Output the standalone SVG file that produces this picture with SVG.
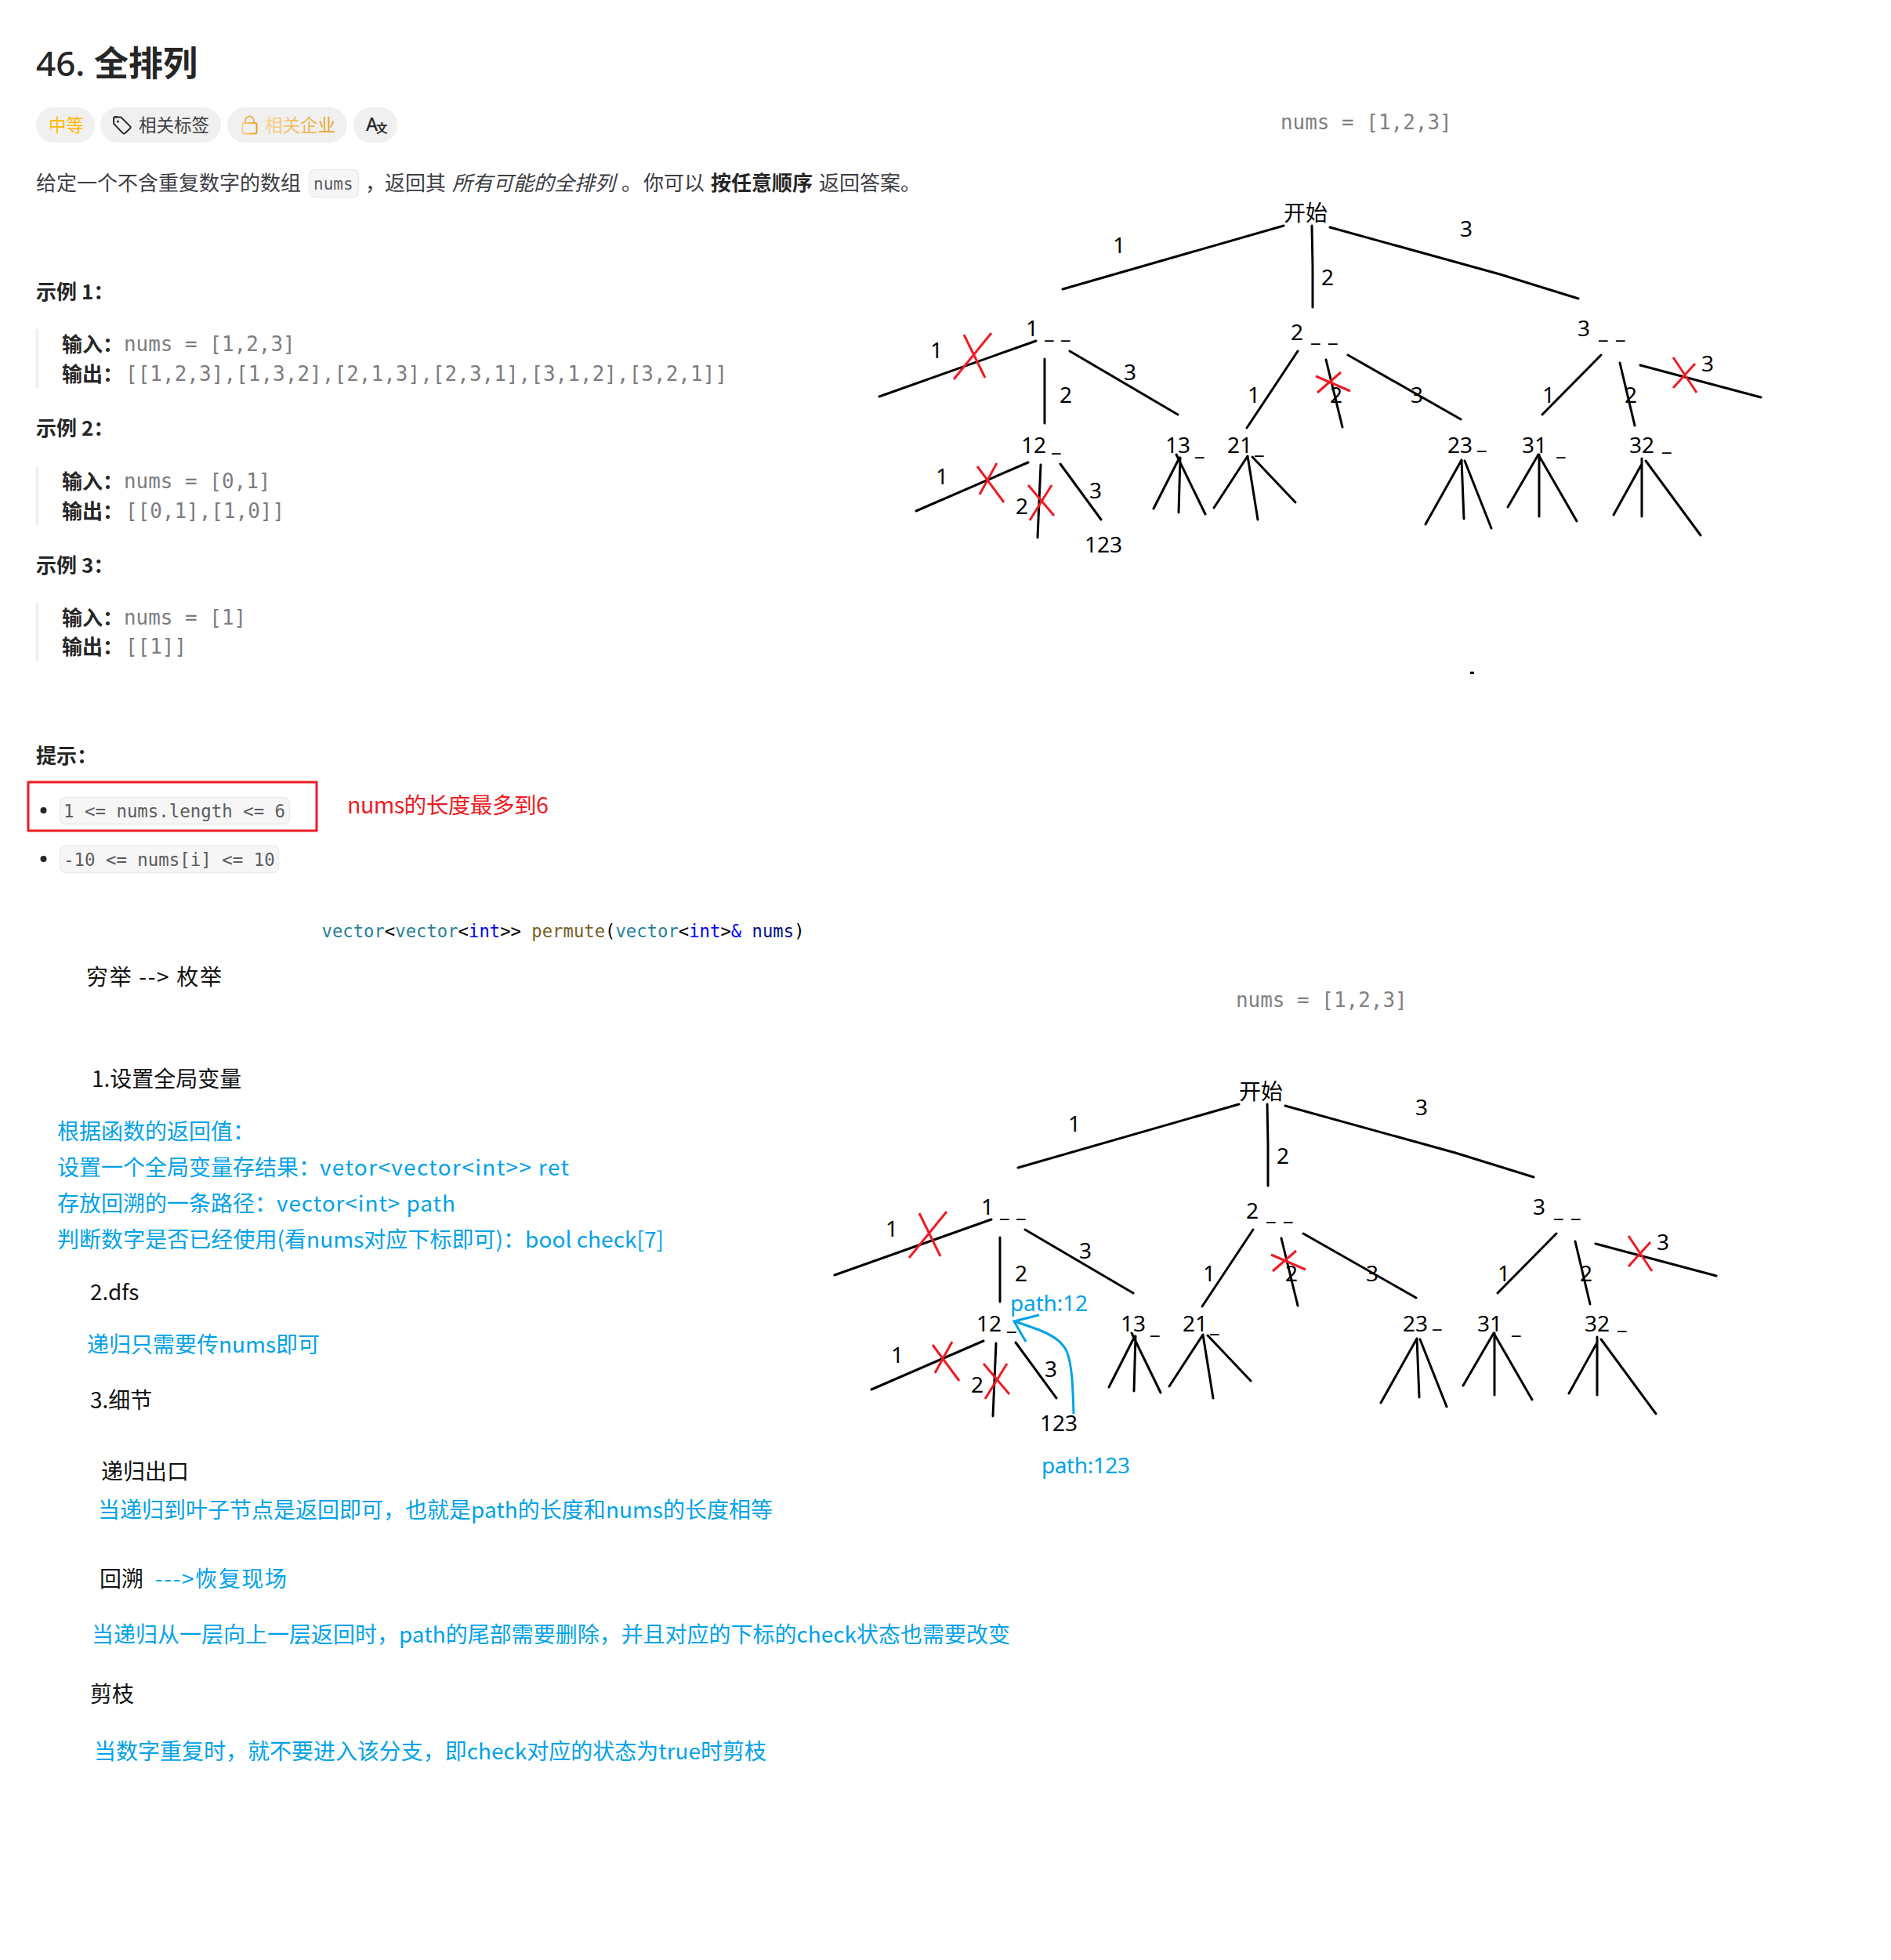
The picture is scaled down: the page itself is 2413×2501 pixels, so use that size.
<svg xmlns="http://www.w3.org/2000/svg" width="2413" height="2501" viewBox="0 0 2413 2501">
<defs>
<linearGradient id="gold" x1="0" y1="0" x2="1" y2="0"><stop offset="0" stop-color="#f9d08f"/><stop offset="1" stop-color="#e6a11f"/></linearGradient>
</defs>
<style>
text{font-family:"Noto Sans","Noto Sans CJK SC",sans-serif;white-space:pre}
.cjk{font-family:"Noto Sans CJK SC","Noto Sans",sans-serif}
.b{font-size:26px;fill:#3c3c43;font-family:"Noto Sans CJK SC",sans-serif}
.bb{font-size:26px;font-weight:700;fill:#262626;font-family:"Noto Sans CJK SC",sans-serif}
.m{font-family:"DejaVu Sans Mono",monospace;font-size:25.95px;fill:#7c7c80}
.c{font-family:"DejaVu Sans Mono",monospace;font-size:22.4px;fill:#5c5c60}
.k{font-size:28px;fill:#111;font-family:"Noto Sans CJK SC",sans-serif}
.u{font-size:28px;fill:#00a2e8;font-family:"Noto Sans CJK SC",sans-serif}
.chip{fill:#f0f0f0}
.bar{fill:#eeeeee}
.cc{fill:#f6f6f7;stroke:#ebebed;stroke-width:1.5}
.n{font-size:28px;fill:#000;text-anchor:middle}
.d{font-size:26px;fill:#000}
.l{fill:none;stroke:#000;stroke-width:3;stroke-linecap:round;stroke-linejoin:round}
.x{fill:none;stroke:#ed1c24;stroke-width:3}
.bl{fill:none;stroke:#00a2e8;stroke-width:3}
</style>
<g id="chips">
<rect class="chip" x="46" y="137" width="75" height="45" rx="22.5"/>
<text x="62" y="168" font-size="22.4" fill="#ffb800" class="cjk">中等</text>
<rect class="chip" x="128" y="137" width="154" height="45" rx="22.5"/>
<path d="M147 149.500h6.500a2 2 0 0 1 1.500 .6l11 11a2 2 0 0 1 0 2.800l-6.500 6a2 2 0 0 1 -2.800 0l-11 -11.500a2 2 0 0 1 -.6 -1.500v-5.500a2.400 2.400 0 0 1 2.400 -2.400z" fill="none" stroke="#262626" stroke-width="2"/>
<circle cx="150.500" cy="155" r="1.500" fill="#262626"/>
<text x="177" y="168" font-size="22.500" fill="#3c3c43" class="cjk">相关标签</text>
<rect class="chip" x="290" y="137" width="153" height="45" rx="22.5"/>
<rect x="309.500" y="157" width="18" height="13.500" rx="2" fill="none" stroke="url(#gold)" stroke-width="2"/>
<path d="M313 157v-3a5.500 5.500 0 0 1 11 0v3" fill="none" stroke="#eeb257" stroke-width="2"/>
<text x="338" y="168" font-size="22.500" fill="url(#gold)" class="cjk">相关企业</text>
<rect class="chip" x="451" y="137" width="56" height="45" rx="22.5"/>
<text x="467" y="167" font-size="23" font-weight="500" fill="#262626">A</text><text x="480" y="169" font-size="14.500" font-weight="700" fill="#262626" class="cjk">文</text>
</g>
<g id="problem" transform="translate(0 1)">
<text x="46" y="96" font-size="44" font-weight="500" fill="#262626">46.</text>
<text x="120" y="96" font-size="44" font-weight="700" fill="#262626" class="cjk">全排列</text>

<text x="46" y="242" class="b">给定一个不含重复数字的数组</text>
<rect class="cc" x="394.500" y="215.500" width="63" height="35" rx="7"/>
<text x="400" y="241" class="c" style="font-size:21px">nums</text>
<text x="466" y="242" class="b">，</text>
<text x="491" y="242" class="b">返回其</text>
<text x="577" y="242" class="b" font-style="italic">所有可能的全排列</text>
<text x="793" y="242" class="b">。</text>
<text x="821" y="242" class="b">你可以</text>
<text x="907" y="242" class="bb">按任意顺序</text>
<text x="1045" y="242" class="b">返回答案。</text>

<text x="46" y="381" class="bb">示例 1：</text>
<rect class="bar" x="46" y="419" width="3" height="75"/>
<text x="79" y="448" class="bb">输入：</text><text x="158" y="447" class="m">nums = [1,2,3]</text>
<text x="79" y="486" class="bb">输出：</text><text x="160" y="485" class="m" textLength="768">[[1,2,3],[1,3,2],[2,1,3],[2,3,1],[3,1,2],[3,2,1]]</text>

<text x="46" y="555" class="bb">示例 2：</text>
<rect class="bar" x="46" y="594" width="3" height="75"/>
<text x="79" y="623" class="bb">输入：</text><text x="158" y="622" class="m">nums = [0,1]</text>
<text x="79" y="661" class="bb">输出：</text><text x="160" y="660" class="m">[[0,1],[1,0]]</text>

<text x="46" y="730" class="bb">示例 3：</text>
<rect class="bar" x="46" y="768" width="3" height="75"/>
<text x="79" y="797" class="bb">输入：</text><text x="158" y="796" class="m">nums = [1]</text>
<text x="79" y="834" class="bb">输出：</text><text x="160" y="833" class="m">[[1]]</text>

<text x="46" y="973" class="bb">提示：</text>
<rect x="36" y="997" width="368" height="62" fill="none" stroke="#ed1c24" stroke-width="3"/>
<text x="443" y="1037" font-size="28.700" fill="#ed1c24" class="cjk" textLength="257">nums的长度最多到6</text>
<circle cx="55.500" cy="1033" r="4" fill="#262626"/>
<rect class="cc" x="76.500" y="1016.500" width="293" height="34" rx="7"/>
<text x="81" y="1042" class="c">1 &lt;= nums.length &lt;= 6</text>
<circle cx="55.500" cy="1095" r="4" fill="#262626"/>
<rect class="cc" x="76.500" y="1078.500" width="279" height="34" rx="7"/>
<text x="81" y="1104" class="c">-10 &lt;= nums[i] &lt;= 10</text>

<text x="410.500" y="1195" style="font-family:'DejaVu Sans Mono',monospace;font-size:22.200px" fill="#000" textLength="616"><tspan fill="#267f99">vector</tspan>&lt;<tspan fill="#267f99">vector</tspan>&lt;<tspan fill="#0000ff">int</tspan>&gt;&gt; <tspan fill="#795e26">permute</tspan>(<tspan fill="#267f99">vector</tspan>&lt;<tspan fill="#0000ff">int</tspan>&gt;<tspan fill="#0000ff">&amp;</tspan> <tspan fill="#001080">nums</tspan>)</text>
</g>
<g id="notes" transform="translate(0 1)">
<text x="110" y="1256" class="k" textLength="173">穷举 --&gt; 枚举</text>
<text x="117" y="1386" class="k">1.设置全局变量</text>
<text x="73" y="1453" class="u">根据函数的返回值：</text>
<text x="73" y="1499" class="u">设置一个全局变量存结果：</text><text x="408" y="1499" class="u" textLength="318">vetor&lt;vector&lt;int&gt;&gt; ret</text>
<text x="73" y="1545" class="u">存放回溯的一条路径：</text><text x="353" y="1545" class="u" textLength="228">vector&lt;int&gt; path</text>
<text x="73" y="1591" class="u" textLength="774">判断数字是否已经使用(看nums对应下标即可)：bool check[7]</text>
<text x="115" y="1658" class="k">2.dfs</text>
<text x="111" y="1725" class="u" textLength="297">递归只需要传nums即可</text>
<text x="115" y="1796" class="k">3.细节</text>
<text x="129" y="1887" class="k">递归出口</text>
<text x="125" y="1936" class="u" textLength="861">当递归到叶子节点是返回即可，也就是path的长度和nums的长度相等</text>
<text x="127" y="2024" class="k">回溯</text>
<text x="198" y="2024" class="u" textLength="168">---&gt;恢复现场</text>
<text x="117" y="2095" class="u" textLength="1172">当递归从一层向上一层返回时，path的尾部需要删除，并且对应的下标的check状态也需要改变</text>
<text x="115" y="2171" class="k">剪枝</text>
<text x="120" y="2244" class="u" textLength="858">当数字重复时，就不要进入该分支，即check对应的状态为true时剪枝</text>
</g>
<text x="1634" y="165" class="m" style="fill:#808080">nums = [1,2,3]</text>
<rect x="1876" y="857" width="5" height="3" fill="#000"/>

<g id="tree1">
<g id="t1-connectors">
<path class="l" d="M1638 288L1356 369M1674 288L1675 340V392M1697 290L1914 350L2014 381"/>
<path class="l" d="M1322 435L1122 506M1333 458V540M1365 448L1503 529"/>
<path class="l" d="M1656 448L1591 546M1692 459L1713 545M1720 453L1864 535"/>
<path class="l" d="M2043 453L1968 529M2067 463L2086 543M2093 466L2247 507"/>
<path class="l" d="M1312 590L1169 652M1328 593L1324 686M1353 592L1405 663"/>
<path class="l" d="M1505 584L1472 649M1506 584L1504 654M1501 580L1538 656"/>
<path class="l" d="M1592 582L1549 648M1592 582L1605 663M1598 583L1653 641"/>
<path class="l" d="M1865 587L1819 669M1865 587L1868 662M1869 588L1903 674"/>
<path class="l" d="M1963 580L1924 647M1964 580V659M1963 580L2012 665"/>
<path class="l" d="M2095 592L2059 657M2095 585V659M2100 588L2170 683"/>
<path class="x" d="M1230 427L1257 482M1265 425L1217 484M1247 595L1281 641M1272 591L1250 631M1312 619L1345 658M1342 619L1314 664M1679 480L1723 499M1711 475L1681 501M2135 456L2165 501M2163 464L2135 495"/>
<text class="n" x="1428" y="323">1</text><text class="n" x="1694" y="364">2</text><text class="n" x="1871" y="302">3</text>
<text class="n" x="1195" y="457">1</text><text class="n" x="1360" y="514">2</text><text class="n" x="1442" y="485">3</text>
<text class="n" x="1600" y="514">1</text><text class="n" x="1705" y="514">2</text><text class="n" x="1808" y="514">3</text>
<text class="n" x="1976" y="514">1</text><text class="n" x="2081" y="514">2</text><text class="n" x="2179" y="474">3</text>
<text class="n" x="1202" y="618">1</text><text class="n" x="1304" y="656">2</text><text class="n" x="1398" y="636">3</text>
</g>
<g id="t1-root"><text x="1638" y="282" font-size="28" fill="#000" class="cjk">开始</text></g>
<g id="t1-n1"><text class="n" x="1317" y="429">1</text><text class="d" x="1333 1345 1354" y="432">_ _</text></g>
<g id="t1-n2"><text class="n" x="1655" y="434">2</text><text class="d" x="1673 1685 1695" y="436">_ _</text></g>
<g id="t1-n3"><text class="n" x="2021" y="429">3</text><text class="d" x="2040 2052 2062" y="432">_ _</text></g>
<g id="t1-n12"><text class="n" x="1319" y="578">12</text><text class="d" x="1342" y="576">_</text></g>
<g id="t1-n13"><text class="n" x="1503" y="578">13</text><text class="d" x="1525" y="581">_</text></g>
<g id="t1-n21"><text class="n" x="1582" y="578">21</text><text class="d" x="1601" y="579">_</text></g>
<g id="t1-n23"><text class="n" x="1863" y="578">23</text><text class="d" x="1885" y="573">_</text></g>
<g id="t1-n31"><text class="n" x="1958" y="578">31</text><text class="d" x="1986" y="581">_</text></g>
<g id="t1-n32"><text class="n" x="2095" y="578">32</text><text class="d" x="2121" y="575">_</text></g>
<g id="t1-n123"><text class="n" x="1408" y="705">123</text></g>
</g>

<text x="1577" y="1285" class="m" style="fill:#808080">nums = [1,2,3]</text>
<g id="tree2" transform="translate(-57 1121)">
<g id="t2-connectors">
<path class="l" d="M1638 288L1356 369M1674 288L1675 340V392M1697 290L1914 350L2014 381"/>
<path class="l" d="M1322 435L1122 506M1333 458V540M1365 448L1503 529"/>
<path class="l" d="M1656 448L1591 546M1692 459L1713 545M1720 453L1864 535"/>
<path class="l" d="M2043 453L1968 529M2067 463L2086 543M2093 466L2247 507"/>
<path class="l" d="M1312 590L1169 652M1328 593L1324 686M1353 592L1405 663"/>
<path class="l" d="M1505 584L1472 649M1506 584L1504 654M1501 580L1538 656"/>
<path class="l" d="M1592 582L1549 648M1592 582L1605 663M1598 583L1653 641"/>
<path class="l" d="M1865 587L1819 669M1865 587L1868 662M1869 588L1903 674"/>
<path class="l" d="M1963 580L1924 647M1964 580V659M1963 580L2012 665"/>
<path class="l" d="M2095 592L2059 657M2095 585V659M2100 588L2170 683"/>
<path class="x" d="M1230 427L1257 482M1265 425L1217 484M1247 595L1281 641M1272 591L1250 631M1312 619L1345 658M1342 619L1314 664M1679 480L1723 499M1711 475L1681 501M2135 456L2165 501M2163 464L2135 495"/>
<text class="n" x="1428" y="323">1</text><text class="n" x="1694" y="364">2</text><text class="n" x="1871" y="302">3</text>
<text class="n" x="1195" y="457">1</text><text class="n" x="1360" y="514">2</text><text class="n" x="1442" y="485">3</text>
<text class="n" x="1600" y="514">1</text><text class="n" x="1705" y="514">2</text><text class="n" x="1808" y="514">3</text>
<text class="n" x="1976" y="514">1</text><text class="n" x="2081" y="514">2</text><text class="n" x="2179" y="474">3</text>
<text class="n" x="1202" y="618">1</text><text class="n" x="1304" y="656">2</text><text class="n" x="1398" y="636">3</text>
</g>
<g id="t2-root"><text x="1638" y="282" font-size="28" fill="#000" class="cjk">开始</text></g>
<g id="t2-n1"><text class="n" x="1317" y="429">1</text><text class="d" x="1333 1345 1354" y="432">_ _</text></g>
<g id="t2-n2"><text class="n" x="1655" y="434">2</text><text class="d" x="1673 1685 1695" y="436">_ _</text></g>
<g id="t2-n3"><text class="n" x="2021" y="429">3</text><text class="d" x="2040 2052 2062" y="432">_ _</text></g>
<g id="t2-n12"><text class="n" x="1319" y="578">12</text><text class="d" x="1342" y="576">_</text></g>
<g id="t2-n13"><text class="n" x="1503" y="578">13</text><text class="d" x="1525" y="581">_</text></g>
<g id="t2-n21"><text class="n" x="1582" y="578">21</text><text class="d" x="1601" y="579">_</text></g>
<g id="t2-n23"><text class="n" x="1863" y="578">23</text><text class="d" x="1885" y="573">_</text></g>
<g id="t2-n31"><text class="n" x="1958" y="578">31</text><text class="d" x="1986" y="581">_</text></g>
<g id="t2-n32"><text class="n" x="2095" y="578">32</text><text class="d" x="2121" y="575">_</text></g>
<g id="t2-n123"><text class="n" x="1408" y="705">123</text></g>
</g>
<g id="path-annotation">
<path class="bl" d="M1370 1804C1369 1770 1368 1740 1361 1724C1355 1712 1345 1705 1326 1697L1295 1686"/>
<path class="bl" d="M1326 1678L1294 1686L1309 1712"/>
<text x="1289" y="1673" font-size="28" fill="#00a2e8" textLength="99">path:12</text>
<text x="1329" y="1880" font-size="28" fill="#00a2e8" textLength="113">path:123</text>
</g>
</svg>
